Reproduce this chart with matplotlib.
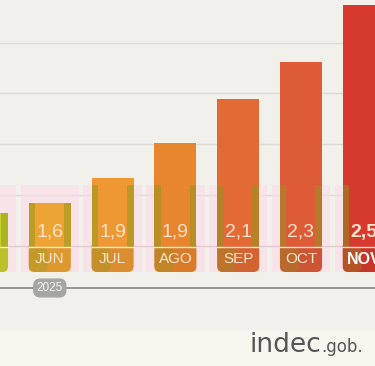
import matplotlib
matplotlib.use("Agg")
import matplotlib.pyplot as plt
import matplotlib.colors as mcolors
from matplotlib.patches import FancyBboxPatch, Rectangle

# Data (heights, in pixel-like units above the bar foot)
months = ["MAY", "JUN", "JUL", "AGO", "SEP", "OCT", "NOV"]
month_labels = ["", "JUN", "JUL", "AGO", "SEP", "OCT", "NOV"]
labels = ["", "1,6", "1,9", "1,9", "2,1", "2,3", "2,5"]
bar_heights = [59, 69, 94, 129, 173, 210, 267]
bar_colors = ["#c9cf2c", "#eea434", "#ed9832", "#e8852f", "#e36a34", "#de5b38", "#d6392d"]
grid_levels = [77, 128, 179, 229]
year_label = "2025"

BG = "#f1f0ea"
BAND_TOP = 25      # top of the month band
GHOST_TOP = 87     # top of the pink ghost boxes
BAR_W = 0.67
OLIVE = "#8c9a1c"


def darker(c, f=0.85):
    r, g, b = mcolors.to_rgb(c)
    return (r * f, g * f, b * f)


fig = plt.figure(figsize=(3.75, 3.66), dpi=100, facecolor=BG)
ax = fig.add_axes([0, 0, 1, 1])
ax.set_facecolor(BG)
ax.set_xlim(13 / 62.8, 388 / 62.8)
ax.set_ylim(-94, 272)
ax.axis("off")

xs = list(range(len(months)))

# lighter footer strip
ax.axhspan(-94, -58, color="#f7f6ee", zorder=0)

# grid lines
for g in grid_levels:
    ax.axhline(g, color="#dddbd3", lw=1.0, zorder=1)

# pink ghost boxes behind the bars
for x in xs:
    ax.add_patch(Rectangle((x - BAR_W / 2 - 0.13, 0), BAR_W + 0.26, GHOST_TOP,
                           facecolor="#ffdae8", alpha=0.55, edgecolor="none", zorder=1.5))
ax.axhline(BAND_TOP + 1, color="#e6c9d0", lw=1.0, zorder=1.6)

asp = 62.8
for x, h, c, m, lab in zip(xs, bar_heights, bar_colors, month_labels, labels):
    left = x - BAR_W / 2
    # upper square part
    ax.bar(x, h - BAND_TOP, bottom=BAND_TOP, width=BAR_W, color=c, zorder=2, linewidth=0)
    # rounded month band
    band = FancyBboxPatch((left, 0), BAR_W, BAND_TOP + 6,
                          boxstyle="round,pad=0,rounding_size=0.09",
                          mutation_aspect=asp, facecolor=darker(c, 0.93),
                          edgecolor="none", zorder=2)
    ax.add_patch(band)
    ax.bar(x, 6, bottom=BAND_TOP, width=BAR_W, color=c, zorder=2.1, linewidth=0)
    # olive edge strips in the lower part
    top = min(h, GHOST_TOP)
    ax.add_patch(Rectangle((left, BAND_TOP), 0.1, top - BAND_TOP,
                           facecolor=OLIVE, alpha=0.5, edgecolor="none", zorder=2.2))
    ax.add_patch(Rectangle((left + BAR_W - 0.11, BAND_TOP), 0.11, top - BAND_TOP,
                           facecolor=OLIVE, alpha=0.5, edgecolor="none", zorder=2.2))
    ax.add_patch(FancyBboxPatch((left, 0), BAR_W * 0.45, BAND_TOP,
                                boxstyle="round,pad=0,rounding_size=0.09",
                                mutation_aspect=asp, facecolor=OLIVE, alpha=0.3,
                                edgecolor="none", zorder=2.2))
    # band separator
    ax.plot([left, left + BAR_W], [BAND_TOP, BAND_TOP], color="white", lw=1.0,
            alpha=0.8, zorder=2.3)
    last = m == month_labels[-1]
    ax.text(x, 40, lab, ha="center", va="center", color="#fde3c9",
            fontsize=14, fontweight="bold" if last else "normal",
            family="Liberation Sans", zorder=3)
    ax.text(x, 13, m, ha="center", va="center", color="white" if last else "#fde6cf",
            fontsize=11.5 if last else 11, fontweight="bold" if last else "normal",
            family="Liberation Sans", zorder=3)

# timeline with year pill
ax.axhline(-16, color="#8f8f8c", lw=1.3, zorder=1)
ax.text(1, -16, year_label, ha="center", va="center", color="#f4f4f2", fontsize=8.5,
        family="Liberation Sans", zorder=3,
        bbox=dict(boxstyle="round,pad=0.3,rounding_size=0.6", facecolor="#a5a5a2",
                  edgecolor="none"))

# logo
logo = fig.text(249 / 375, 14 / 366, "indec", ha="left", va="baseline", color="#555555",
                fontsize=19, family="DejaVu Sans")
bb = logo.get_window_extent(renderer=fig.canvas.get_renderer())
fig.text(bb.x1 / fig.bbox.width + 0.002, 14 / 366, ".gob.", ha="left", va="baseline",
         color="#555555", fontsize=12, family="DejaVu Sans")

fig.savefig("out.png", dpi=100, facecolor=BG)
